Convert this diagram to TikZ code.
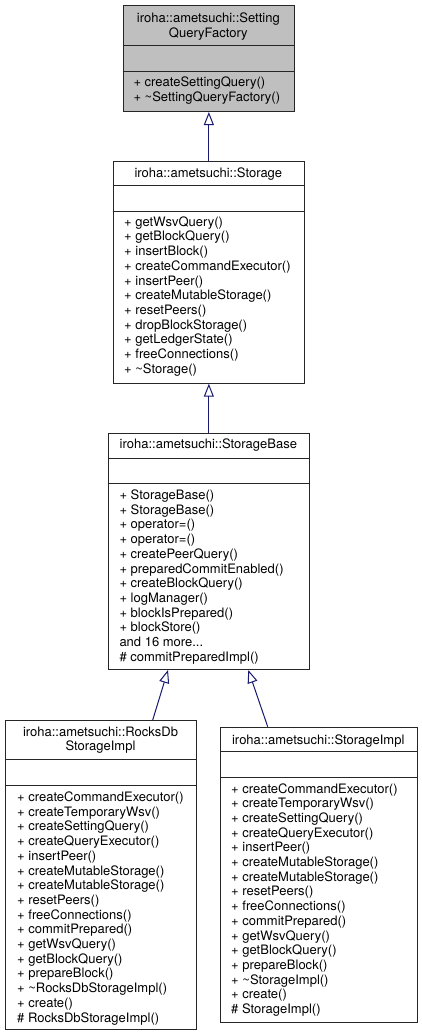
\documentclass[tikz,border=0pt]{standalone}
\usepackage{fontspec}
\setmainfont{TeX Gyre Heros}
\usetikzlibrary{arrows.meta}
\definecolor{edgeblue}{HTML}{191970}

\tikzset{
  classbox/.style={draw=black!85, line width=1pt, inner sep=0pt, anchor=north west},
  sepline/.style={draw=black!85, line width=1pt},
  title/.style={inner sep=0pt, align=center, anchor=base, font=\fontsize{13}{14.7}\selectfont},
  members/.style={inner sep=0pt, align=left, anchor=base west, font=\fontsize{13}{14.7}\selectfont},
  inherit/.style={draw=edgeblue, line width=1pt, -{Triangle[open, length=13pt, width=10pt]}},
}

\begin{document}
\begin{tikzpicture}[x=1pt, y=-1pt]
  \useasboundingbox (0,0) rectangle (421,1036);
  \def\Xmid{208.35};
  \def\pad{4.5};
  \def\dy{14.7};
  % (multi-line nodes: base is the last line)

  % SettingQueryFactory
  \node[classbox, fill=gray!50, minimum width=171.3pt, minimum height=105.7pt] (factory) at (122.7, 5.3) {};
  \draw[sepline] (factory.west |- 0,45.7) -- (factory.east |- 0,45.7);
  \draw[sepline] (factory.west |- 0,71) -- (factory.east |- 0,71);
  \node[title] (factoryT) at (\Xmid, 18.3 + \pad + \dy) {iroha::ametsuchi::Setting\\QueryFactory};
  \node[members] (factoryM) at (133.3, 82.3 + \pad + \dy) {+ createSettingQuery()\\+ \textasciitilde SettingQueryFactory()};

  % Storage
  \node[classbox, minimum width=191.3pt, minimum height=222pt] (storage) at (112.7, 160.7) {};
  \draw[sepline] (storage.west |- 0,185) -- (storage.east |- 0,185);
  \draw[sepline] (storage.west |- 0,211) -- (storage.east |- 0,211);
  \node[title] (storageT) at (\Xmid, 172.7 + \pad) {iroha::ametsuchi::Storage};
  \node[members] (storageM) at (124, 221.7 + \pad + 10*\dy) {+ getWsvQuery()\\+ getBlockQuery()\\+ insertBlock()\\+ createCommandExecutor()\\+ insertPeer()\\+ createMutableStorage()\\+ resetPeers()\\+ dropBlockStorage()\\+ getLedgerState()\\+ freeConnections()\\+ \textasciitilde Storage()};

  % StorageBase
  \node[classbox, minimum width=201.3pt, minimum height=236.3pt] (base) at (107.7, 432.7) {};
  \draw[sepline] (base.west |- 0,458) -- (base.east |- 0,458);
  \draw[sepline] (base.west |- 0,483) -- (base.east |- 0,483);
  \node[title] (baseT) at (\Xmid, 444 + \pad) {iroha::ametsuchi::StorageBase};
  \node[members] (baseM) at (119.3, 495 + \pad + 11*\dy) {+ StorageBase()\\+ StorageBase()\\+ operator=()\\+ operator=()\\+ createPeerQuery()\\+ preparedCommitEnabled()\\+ createBlockQuery()\\+ logManager()\\+ blockIsPrepared()\\+ blockStore()\\and 16 more...\\\# commitPreparedImpl()};

  % RocksDbStorageImpl
  \node[classbox, minimum width=191pt, minimum height=309.3pt] (rocks) at (5, 720) {};
  \draw[sepline] (rocks.west |- 0,759) -- (rocks.east |- 0,759);
  \draw[sepline] (rocks.west |- 0,785.7) -- (rocks.east |- 0,785.7);
  \node[title] (rocksT) at (100.5, 731.7 + \pad + \dy) {iroha::ametsuchi::RocksDb\\StorageImpl};
  \node[members] (rocksM) at (17, 797 + \pad + 15*\dy) {+ createCommandExecutor()\\+ createTemporaryWsv()\\+ createSettingQuery()\\+ createQueryExecutor()\\+ insertPeer()\\+ createMutableStorage()\\+ createMutableStorage()\\+ resetPeers()\\+ freeConnections()\\+ commitPrepared()\\+ getWsvQuery()\\+ getBlockQuery()\\+ prepareBlock()\\+ \textasciitilde RocksDbStorageImpl()\\+ create()\\\# RocksDbStorageImpl()};

  % StorageImpl
  \node[classbox, minimum width=196.5pt, minimum height=295pt] (impl) at (220, 726.7) {};
  \draw[sepline] (impl.west |- 0,751.7) -- (impl.east |- 0,751.7);
  \draw[sepline] (impl.west |- 0,777.3) -- (impl.east |- 0,777.3);
  \node[title] (implT) at (318.25, 739.5 + \pad) {iroha::ametsuchi::StorageImpl};
  \node[members] (implM) at (231, 788.5 + \pad + 15*\dy) {+ createCommandExecutor()\\+ createTemporaryWsv()\\+ createSettingQuery()\\+ createQueryExecutor()\\+ insertPeer()\\+ createMutableStorage()\\+ createMutableStorage()\\+ resetPeers()\\+ freeConnections()\\+ commitPrepared()\\+ getWsvQuery()\\+ getBlockQuery()\\+ prepareBlock()\\+ \textasciitilde StorageImpl()\\+ create()\\\# StorageImpl()};

  % arrows
  \coordinate (baseL) at ([xshift=60.3pt]base.south west);
  \coordinate (baseR) at ([xshift=140.6pt]base.south west);
  \coordinate (rocksIn) at ([xshift=147.7pt]rocks.north west);
  \coordinate (implIn) at ([xshift=47.7pt]impl.north west);
  \draw[inherit] (storage.north) -- (factory.south);
  \draw[inherit] (base.north) -- (storage.south);
  \draw[inherit] (rocksIn) -- (baseL);
  \draw[inherit] (implIn) -- (baseR);

\end{tikzpicture}
\end{document}
